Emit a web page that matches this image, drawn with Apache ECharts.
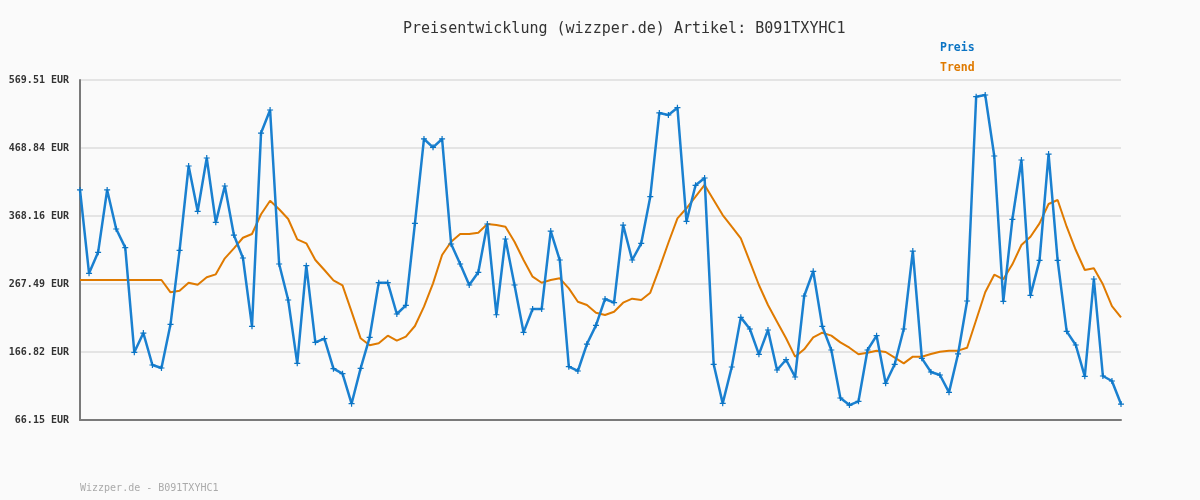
<!DOCTYPE html>
<html>
<head>
<meta charset="utf-8">
<script src="https://cdn.jsdelivr.net/npm/echarts@6/dist/echarts.min.js"></script>
<style>
html,body{margin:0;padding:0;background:#fafafa;}
#chart{width:1200px;height:500px;}
</style>
</head>
<body>
<div id="chart"></div>
<script>
const preis = [406.7,283.3,314.4,406.7,348.9,321.3,166.4,194.9,147.6,143.1,
207.8,317.4,442.2,375.1,454.0,358.8,412.6,340.0,306.0,204.8,
491.0,525.1,297.1,243.8,150.0,294.6,181.1,186.5,142.1,134.7,
90.3,142.6,188.6,269.4,269.4,223.1,235.9,357.3,482.2,469.8,
482.2,326.7,297.1,266.0,284.8,356.3,222.0,334.1,266.0,195.9,
230.5,230.5,345.9,303.0,145.1,138.7,178.6,206.3,245.3,239.8,
354.8,303.0,327.7,396.8,520.7,517.7,528.5,360.3,413.6,424.4,
148.6,90.8,144.6,218.1,200.9,163.4,199.4,140.2,155.4,129.8,
249.7,286.3,204.8,169.8,98.7,88.3,93.8,169.8,191.0,120.5,
148.6,200.9,316.3,157.4,137.2,132.8,107.1,163.9,242.3,544.8,
547.3,457.0,241.8,363.3,451.1,250.7,302.5,459.9,302.5,197.4,
177.2,130.8,274.9,131.3,123.9,89.8];
const trend = [273.4,273.4,273.4,273.4,273.4,273.4,273.4,273.4,273.4,273.4,
255.2,257.6,269.4,266.5,277.4,281.8,305.5,320.3,336.0,341.5,
370.7,390.8,378.1,363.7,333.6,327.7,303.0,288.2,272.9,265.5,
226.5,187.1,176.7,179.7,191.0,183.6,189.5,205.3,233.9,268.5,
310.4,330.1,341.5,341.5,343.5,356.3,354.8,352.3,330.1,303.0,
278.3,269.4,273.4,275.9,261.1,241.3,236.4,225.0,221.6,226.5,
239.8,245.8,243.8,254.6,290.7,328.6,364.7,379.6,396.8,414.1,
391.9,369.6,352.3,335.1,300.5,266.0,236.4,211.7,187.1,159.9,
170.8,188.6,195.4,191.0,181.1,173.2,163.4,165.8,168.8,166.8,
158.4,150.0,159.9,159.9,163.9,167.3,168.8,168.8,173.2,214.2,
255.2,281.3,274.4,296.6,325.2,337.5,357.3,385.9,391.9,352.3,
317.8,288.2,290.7,267.0,234.9,218.1];
const tickLabels = ['66.15 EUR','166.82 EUR','267.49 EUR','368.16 EUR','468.84 EUR','569.51 EUR'];
const categories = preis.map((_, i) => String(i + 1));

const MONO = '"DejaVu Sans Mono", "Liberation Mono", monospace';
const chart = echarts.init(document.getElementById('chart'), null, {renderer: 'canvas'});
chart.setOption({
  backgroundColor: '#fafafa',
  animation: false,
  title: {
    text: 'Preisentwicklung (wizzper.de) Artikel: B091TXYHC1',
    left: 398, top: 17,
    textStyle: {fontFamily: MONO, fontSize: 15, fontWeight: 'normal', color: '#333'}
  },
  legend: {
    orient: 'vertical', left: 930, top: 36, itemWidth: 0, itemHeight: 0, itemGap: 6,
    icon: 'rect',
    data: [
      {name: 'Preis', textStyle: {color: '#0b74c4'}},
      {name: 'Trend', textStyle: {color: '#df7a00'}}
    ],
    textStyle: {fontFamily: MONO, fontSize: 11.5, fontWeight: 'bold', lineHeight: 14}
  },
  graphic: [{
    type: 'text', left: 80, top: 483,
    style: {text: 'Wizzper.de - B091TXYHC1', fill: '#aaaaaa', font: '10px ' + MONO}
  }],
  grid: {left: 80, right: 79, top: 80, bottom: 80, containLabel: false},
  xAxis: {
    type: 'category', data: categories, boundaryGap: false,
    axisLine: {show: true, lineStyle: {color: '#7a7a7a', width: 2}},
    axisTick: {show: false}, axisLabel: {show: false}, splitLine: {show: false}
  },
  yAxis: [{
    type: 'value', min: 0, max: 5, interval: 1,
    axisLine: {show: true, lineStyle: {color: '#7a7a7a', width: 2}},
    axisTick: {show: false},
    axisLabel: {
      margin: 11, fontFamily: MONO, fontSize: 10, fontWeight: 'bold', color: '#333',
      formatter: v => tickLabels[Math.round(v)]
    },
    splitLine: {show: true, lineStyle: {color: '#e4e4e4', width: 2}}
  }, {
    type: 'value', min: 66.15, max: 569.51, show: false,
    splitLine: {show: false}
  }],
  series: [{
    name: 'Trend', type: 'line', yAxisIndex: 1, data: trend,
    showSymbol: false, symbol: 'none',
    lineStyle: {color: '#df7a00', width: 2}, itemStyle: {color: '#df7a00'}, z: 2
  }, {
    name: 'Preis', type: 'line', yAxisIndex: 1, data: preis,
    symbol: 'path://M2,0 L3,0 L3,2 L5,2 L5,3 L3,3 L3,5 L2,5 L2,3 L0,3 L0,2 L2,2 Z',
    symbolSize: 6, showSymbol: true, showAllSymbol: true,
    lineStyle: {color: '#1a80d0', width: 2.5}, itemStyle: {color: '#0b74c4'}, z: 3
  }]
});
</script>
</body>
</html>
